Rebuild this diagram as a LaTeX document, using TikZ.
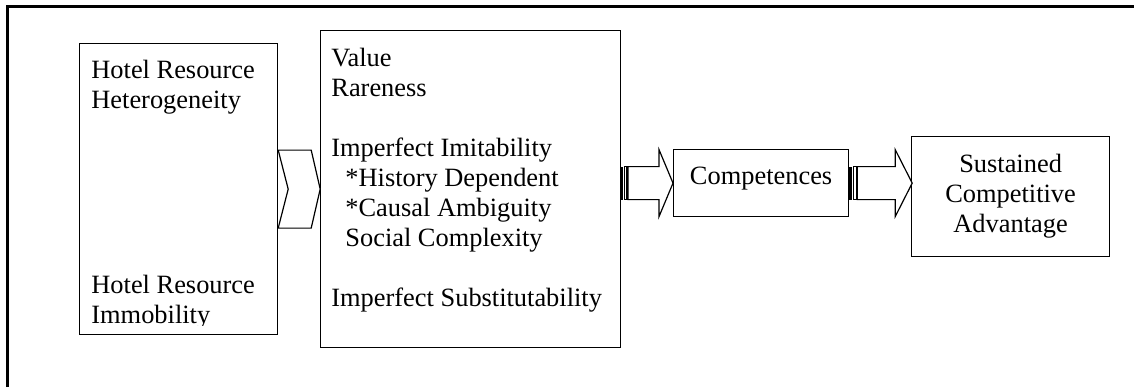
\documentclass[tikz,border=0pt]{standalone}
\usepackage{fontspec}
\setmainfont{Liberation Serif}
\tikzset{
  box/.style={draw, line width=.6pt, inner sep=0pt, anchor=north west},
  txt/.style={anchor=base west, inner sep=0pt},
  blk/.style={draw, line width=.6pt, fill=white, line join=miter}
}
\begin{document}
\begin{tikzpicture}[x=.5pt, y=-.5pt, font=\fontsize{13.2}{15}\selectfont]
  \useasboundingbox (0,0) rectangle (1134,387);
  \draw[line width=1.6pt] (7.5,387) -- (7.5,6.5) -- (1134,6.5);

  \node[box, minimum width=99pt, minimum height=145.5pt] (res) at (79,43) {};
  \node[box, minimum width=150pt, minimum height=158.5pt] (attr) at (320,30) {};
  \node[box, minimum width=87.5pt, minimum height=33.5pt, text depth=7pt] (comp) at (673,149) {Competences};
  \node[box, minimum width=99pt, minimum height=60pt, align=center] (sca) at (911,136) {Sustained\\Competitive\\Advantage};

  \begin{scope}
    \clip (79,43) rectangle (277,325);
    \foreach \y/\t [count=\i] in {78/Hotel Resource, 108/Heterogeneity, 293/Hotel Resource, 323/Immobility}
      \node[txt] (h\i) at (91,\y) {\t};
  \end{scope}

  \foreach \t [count=\i] in {Value, Rareness, {}, Imperfect Imitability, \hspace{7pt}*History Dependent,
      \hspace{7pt}*Causal Ambiguity, \hspace{7pt}Social Complexity, {}, Imperfect Substitutability}
    \node[txt] (l\i) at (331,36+30*\i) {\t};

  \begin{scope}[shift={(res.east)}]
    \path[blk] (0,-39) -- (33,-39) -- (42,0) -- (33,39) -- (0,39) -- (10,0) -- cycle;
  \end{scope}
  \begin{scope}[shift={(comp.west)}]
    \path[fill=black] (-53,-16.5) rectangle (-50,16.5);
    \path[blk] (-48.5,-16.5) rectangle (-46,16.5);
    \path[blk] (-45,-16.5) -- (-14,-16.5) -- (-14,-33.5) -- (0,0) -- (-14,33.5) -- (-14,16.5) -- (-45,16.5) -- cycle;
  \end{scope}
  \begin{scope}[shift={(comp.east)}]
    \path[fill=black] (0,-16.5) rectangle (3,16.5);
    \path[blk] (4.5,-16.5) rectangle (7,16.5);
    \path[blk] (8,-16.5) -- (46,-16.5) -- (46,-33.5) -- (63,0) -- (46,33.5) -- (46,16.5) -- (8,16.5) -- cycle;
  \end{scope}
\end{tikzpicture}
\end{document}
